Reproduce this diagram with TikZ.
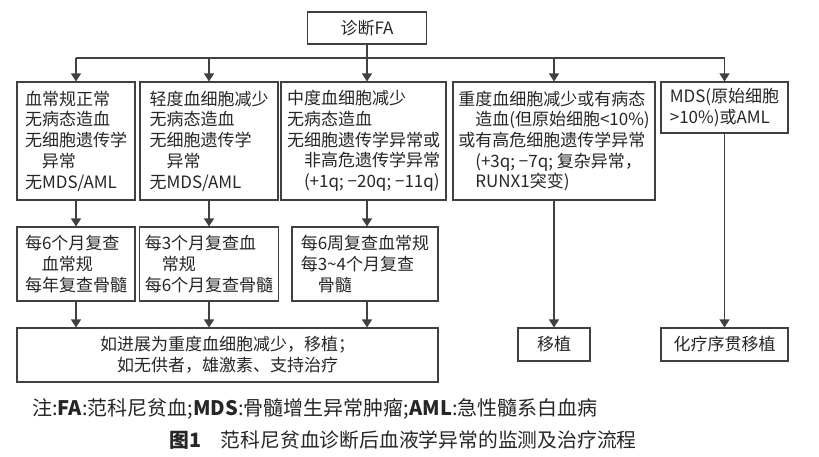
\documentclass[tikz,border=0pt]{standalone}
\usepackage{fontspec}
\setmainfont{Noto Sans CJK SC}
\usetikzlibrary{arrows.meta,positioning}
\definecolor{linec}{gray}{0.25}
\definecolor{textc}{gray}{0.15}
\begin{document}
\begin{tikzpicture}[x=1pt,y=-1pt,
   every node/.style={font=\fontsize{17}{20.7}\selectfont,text=textc},
   box/.style={draw=linec,line width=1.1pt,inner sep=0pt,align=left},
   arr/.style={draw=linec,line width=1.1pt,-{Triangle[width=10pt,length=8pt]}}]
   \useasboundingbox (0,0) rectangle (819,456);
   \node[box,align=center,minimum width=119,minimum height=32] (fa) at (367,28) {诊断FA};
   \node[box,minimum width=118,minimum height=118] (a) at (76,141)
      {血常规正常\\无病态造血\\无细胞遗传学\\\hspace*{1em}异常\\无MDS/AML};
   \node[box,minimum width=138,minimum height=118] (b) at (209,141)
      {轻度血细胞减少\\无病态造血\\无细胞遗传学\\\hspace*{1em}异常\\无MDS/AML};
   \node[box,minimum width=165,minimum height=118] (c) at (363.5,141)
      {中度血细胞减少\\无病态造血\\无细胞遗传学异常或\\\hspace*{1em}非高危遗传学异常\\\hspace*{1em}(+1q; −20q; −11q)};
   \node[box,minimum width=202,minimum height=118] (d) at (554,141)
      {重度血细胞减少或有病态\\\hspace*{1em}造血(但原始细胞<10\%)\\或有高危细胞遗传学异常\\\hspace*{1em}(+3q; −7q; 复杂异常，\\\hspace*{1em}RUNX1突变)};
   \node[box,minimum width=127,minimum height=51] (e) at (724.5,107.5)
      {MDS(原始细胞\\>10\%)或AML};
   \node[box,minimum width=118,minimum height=74] (f) at (76,264)
      {每6个月复查\\\hspace*{1em}血常规\\每年复查骨髓};
   \node[box,minimum width=139,minimum height=74] (g) at (209,264)
      {每3个月复查血\\\hspace*{1em}常规\\每6个月复查骨髓};
   \node[box,minimum width=146,minimum height=74] (h) at (365,264)
      {每6周复查血常规\\每3\textasciitilde 4个月复查\\\hspace*{1em}骨髓};
   \node[box,align=center,minimum width=421,minimum height=54] (i) at (227.5,355)
      {如进展为重度血细胞减少，移植；\\如无供者，雄激素、支持治疗};
   \node[box,align=center,minimum width=72,minimum height=33] (j) at (554,344.5) {移植};
   \node[box,align=center,minimum width=127,minimum height=33] (k) at (724.5,344.5) {化疗序贯移植};
   \node[anchor=west,inner sep=0pt,font=\fontsize{20}{24}\selectfont] (note) at (32,409)
      {注:\textbf{FA}:范科尼贫血;\textbf{MDS}:骨髓增生异常肿瘤;\textbf{AML}:急性髓系白血病};
   \node[inner sep=0pt,font=\fontsize{19.8}{24}\selectfont] (cap) at (403,440)
      {\textbf{图1}\quad 范科尼贫血诊断后血液学异常的监测及治疗流程};
   \coordinate (bus) at (0,58);
   \draw[draw=linec,line width=1.1pt] (a.north |- bus) -- (e.north |- bus);
   \draw[arr] (fa.south) -- (c.north -| fa.south);
   \draw[arr] (c.south -| fa.south) -- (h.north -| fa.south);
   \draw[arr] (h.south -| fa.south) -- (i.north -| fa.south);
   \path[every edge/.append style={arr}]
    (a.north |- bus) edge (a.north)
    (b.north |- bus) edge (b.north)
    (d.north |- bus) edge (d.north)
    (e.north |- bus) edge (e.north)
    (a) edge (f)
    (b) edge (g)
    (f) edge (f |- i.north)
    (g) edge (g |- i.north)
    (d) edge (j)
    (e) edge (k);
\end{tikzpicture}
\end{document}
